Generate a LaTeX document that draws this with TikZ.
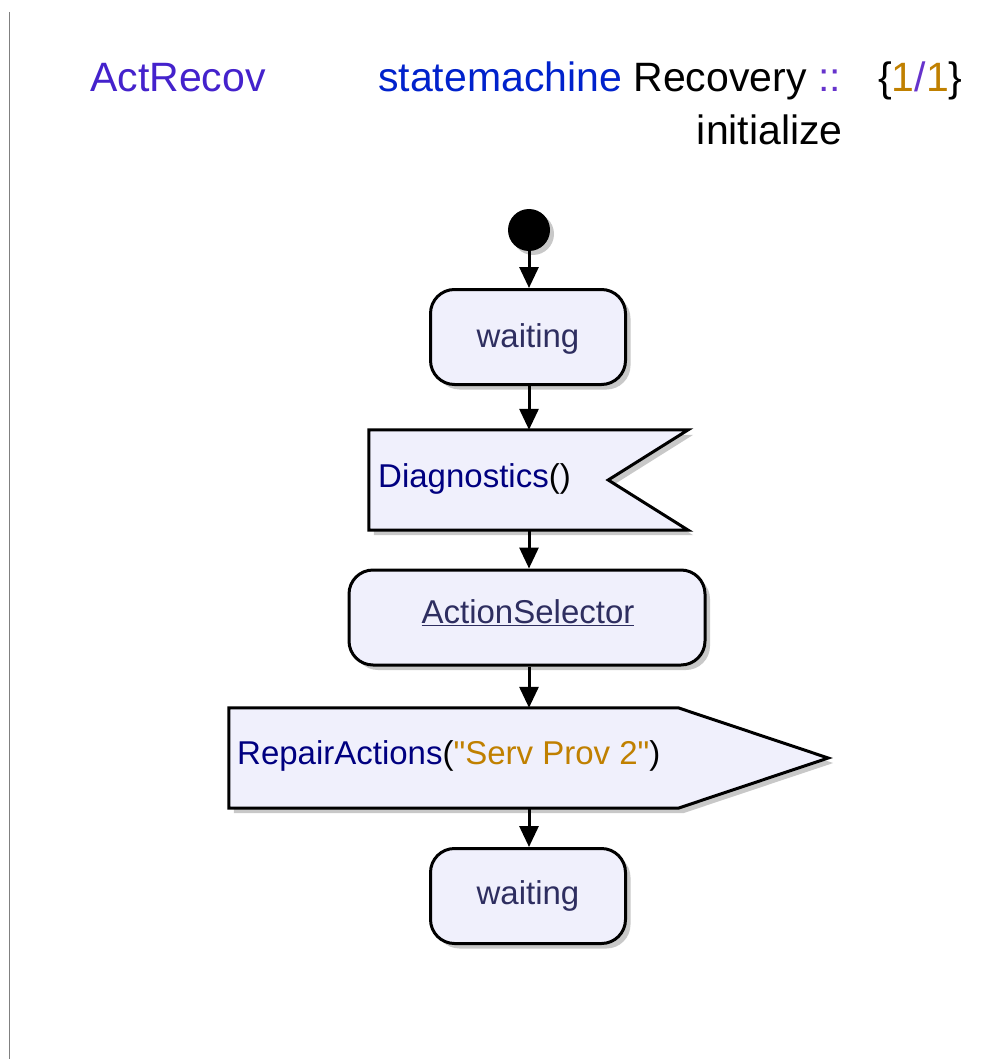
\documentclass[tikz,border=0pt]{standalone}
\usepackage{fontspec}
\setmainfont{Liberation Sans}
\usetikzlibrary{arrows.meta,shadows}
\definecolor{boxfill}{HTML}{F0F0FC}
\definecolor{navytxt}{HTML}{000080}
\definecolor{waittxt}{HTML}{2E2E60}
\definecolor{actc}{HTML}{4422CC}
\definecolor{kwc}{HTML}{0022CC}
\definecolor{goldc}{HTML}{C08000}
\definecolor{purpc}{HTML}{6633CC}
\definecolor{shadowc}{HTML}{C8C8C8}
\tikzset{
  statebox/.style={draw=black, line width=3pt, fill=boxfill, rounded corners=24pt,
    inner sep=0pt, drop shadow={shadow xshift=5pt, shadow yshift=-5pt, fill=shadowc, opacity=1}},
  frame/.style={draw=none, inner sep=0pt, minimum height=100pt},
  flag/.style={draw=black, line width=3pt, fill=boxfill, line join=miter},
  flagshadow/.style={fill=shadowc},
  conn/.style={line width=3pt, -{Triangle[length=21pt,width=19pt]}},
  boxtext/.style={font=\fontsize{33}{40}\selectfont, inner sep=0pt},
  headtext/.style={font=\fontsize{41}{49}\selectfont, inner sep=0pt, anchor=base west}
}
\begin{document}
\begin{tikzpicture}[x=1pt,y=-1pt]
\useasboundingbox (0,0) rectangle (993,1059);
\fill[white] (0,0) rectangle (993,1059);
\draw[gray, line width=1pt] (9,12) -- (9,1059);
% header
\node[headtext, text=actc] (title) at (90,92) {ActRecov};
\node[headtext] (sm) at (378,92) {\textcolor{kwc}{statemachine} Recovery \textcolor{purpc}{::}};
\node[headtext] (cnt) at (878,92) {\{\textcolor{goldc}{1}\textcolor{purpc}{/}\textcolor{goldc}{1}\}};
\node[headtext, anchor=base east, text=black] (init) at (843,145) {initialize};
% initial
\fill[shadowc] (533,234) circle (21);
\node[circle, fill=black, minimum size=42pt, inner sep=0pt] (start) at (529,230) {};
% waiting 1
\node[statebox, minimum width=195pt, minimum height=95pt] (w1) at (528,337) {};
\node[boxtext, text=waittxt] (w1t) at (528,339) {waiting};
% Diagnostics (receive)
\node[frame, minimum width=319pt] (diag) at (528.5,480) {};
\fill[flagshadow] ([shift={(5,5)}]diag.north west) -- ([shift={(5,5)}]diag.north east) -- ([shift={(-75,5)}]diag.east) -- ([shift={(5,5)}]diag.south east) -- ([shift={(5,5)}]diag.south west) -- cycle;
\draw[flag] (diag.north west) -- (diag.north east) -- ([xshift=-80]diag.east) -- (diag.south east) -- (diag.south west) -- cycle;
\node[boxtext, anchor=west] (diagt) at (378,479) {\textcolor{navytxt}{Diagnostics}()};
% ActionSelector
\node[statebox, minimum width=356pt, minimum height=95pt] (as) at (527,617.5) {};
\node[boxtext, text=waittxt] (ast) at (528,613) {\underline{ActionSelector}};
% RepairActions (send)
\node[frame, minimum width=599pt] (rep) at (528.5,758) {};
\fill[flagshadow] ([shift={(5,5)}]rep.north west) -- ([shift={(-145,5)}]rep.north east) -- ([shift={(5,5)}]rep.east) -- ([shift={(-145,5)}]rep.south east) -- ([shift={(5,5)}]rep.south west) -- cycle;
\draw[flag] (rep.north west) -- ([xshift=-150]rep.north east) -- (rep.east) -- ([xshift=-150]rep.south east) -- (rep.south west) -- cycle;
\node[boxtext, anchor=west] (rept) at (237,756) {\textcolor{navytxt}{RepairActions}(\textcolor{goldc}{\textquotedbl Serv Prov 2\textquotedbl})};
% waiting 2
\node[statebox, minimum width=195pt, minimum height=95pt] (w2) at (528,896) {};
\node[boxtext, text=waittxt] (w2t) at (528,896) {waiting};
% connectors
\draw[conn] (start) -- (w1.north -| start);
\draw[conn] (w1.south -| start) -- (diag.north -| start);
\draw[conn] (diag.south -| start) -- (as.north -| start);
\draw[conn] (as.south -| start) -- (rep.north -| start);
\draw[conn] (rep.south -| start) -- (w2.north -| start);
\end{tikzpicture}
\end{document}
